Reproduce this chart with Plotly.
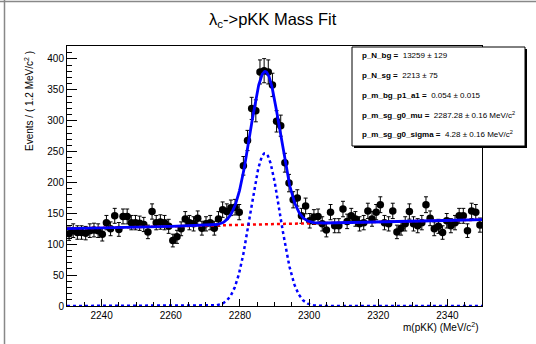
import numpy as np
import plotly.graph_objects as go

# ---- data ----
x_lo, x_hi, bin_w = 2230.0, 2350.0, 1.2
counts = [117, 122, 119, 119, 118, 122, 123, 122, 116, 135,
          125, 146, 124, 145, 145, 135, 135, 134, 132, 120,
          153, 135, 136, 135, 129, 106, 112, 125, 141, 135,
          133, 142, 126, 133, 135, 126, 141, 156, 153, 159,
          160, 152, 227, 268, 320, 316, 379, 381, 379, 358,
          299, 292, 232, 199, 172, 175, 146, 162, 138, 144,
          145, 133, 123, 152, 130, 130, 157, 137, 146, 141,
          133, 135, 154, 141, 152, 164, 135, 133, 154, 120,
          126, 133, 153, 133, 130, 135, 164, 142, 125, 129,
          119, 138, 130, 135, 146, 146, 122, 154, 152, 131]

# fit parameters (from the parameter box)
par_names = ["p_N_bg", "p_N_sg", "p_m_bg_p1_a1", "p_m_sg_g0_mu", "p_m_sg_g0_sigma"]
par_vals = ["13259", "2213", "0.054", "2287.28", "4.28"]
par_errs = ["129", "75", "0.015", "0.16", "0.16"]
par_units = ["", "", "", " MeV/c<sup>2</sup>", " MeV/c<sup>2</sup>"]
N_bg, N_sg, a1, mu, sigma = 13259.0, 2213.0, 0.054, 2287.28, 4.28

x_tick_vals = [2240, 2260, 2280, 2300, 2320, 2340]
y_tick_vals = [0, 50, 100, 150, 200, 250, 300, 350, 400]

centers = x_lo + bin_w * (np.arange(len(counts)) + 0.5)
errs = np.sqrt(np.array(counts, dtype=float))

xm = np.linspace(x_lo, x_hi, 1200)
xp = 2 * (xm - x_lo) / (x_hi - x_lo) - 1
bg = N_bg * bin_w / (x_hi - x_lo) * (1 + a1 * xp)
sg = N_sg * bin_w / (np.sqrt(2 * np.pi) * sigma) * np.exp(-0.5 * ((xm - mu) / sigma) ** 2)
tot = bg + sg

FONT = "Liberation Sans, Arial, Helvetica, sans-serif"
W, H = 536, 344
L, R, T, B = 67, 54, 46, 38
PW, PH = W - L - R, H - T - B
Y_MAX = 421


def px(xpix):
    return (xpix - L) / PW


def py(ypix):
    return (H - B - ypix) / PH


fig = go.Figure()
fig.add_trace(go.Scatter(
    x=centers, y=counts, mode="markers",
    marker=dict(color="black", size=7.5, symbol="circle"),
    error_y=dict(type="data", array=errs, visible=True, color="black", thickness=1, width=2),
    showlegend=False, cliponaxis=True))
fig.add_trace(go.Scatter(x=xm, y=bg, mode="lines",
                         line=dict(color="#ff0000", width=2.5, dash="dot"), showlegend=False))
fig.add_trace(go.Scatter(x=xm, y=sg, mode="lines",
                         line=dict(color="#0000ff", width=2.5, dash="dot"), showlegend=False))
fig.add_trace(go.Scatter(x=xm, y=tot, mode="lines",
                         line=dict(color="#0000ff", width=2.8), showlegend=False))

fig.update_layout(
    width=W, height=H,
    margin=dict(l=L, r=R, t=T, b=B, pad=0),
    paper_bgcolor="white", plot_bgcolor="white",
    font=dict(family=FONT, color="black", size=10),
    showlegend=False,
)
fig.update_xaxes(
    range=[x_lo, x_hi], showgrid=False, zeroline=False,
    showline=True, linecolor="black", linewidth=1, mirror=True,
    ticks="inside", ticklen=7, tickwidth=1, tickcolor="black",
    tickvals=x_tick_vals, ticktext=[str(v) for v in x_tick_vals],
    tickfont=dict(size=10, family=FONT),
    minor=dict(ticks="inside", ticklen=4, dtick=5, tick0=2230, tickcolor="black", showgrid=False),
)
fig.update_yaxes(
    range=[0, Y_MAX], showgrid=False, zeroline=False,
    showline=True, linecolor="black", linewidth=1, mirror=True,
    ticks="inside", ticklen=10, tickwidth=1, tickcolor="black",
    tickvals=y_tick_vals, ticktext=[str(v) for v in y_tick_vals],
    tickfont=dict(size=10, family=FONT),
    minor=dict(ticks="inside", ticklen=5, dtick=10, tick0=0, tickcolor="black", showgrid=False),
)

ann = []
# title
ann.append(dict(x=px(273), y=py(20), xref="paper", yref="paper",
                text="λ<sub>c</sub>->pKK Mass Fit", showarrow=False,
                font=dict(size=16.5, family=FONT), xanchor="center", yanchor="middle"))
# x axis title
ann.append(dict(x=px(481), y=py(327), xref="paper", yref="paper",
                text="m(pKK) (MeV/c<sup>2</sup>)", showarrow=False,
                font=dict(size=10, family=FONT), xanchor="right", yanchor="middle"))
# y axis title
ann.append(dict(x=px(29), y=py(49), xref="paper", yref="paper",
                text="Events / ( 1.2 MeV/c<sup>2</sup> )", showarrow=False, textangle=-90,
                font=dict(size=10, family=FONT), xanchor="center", yanchor="top"))

# parameter box
bx0, bx1, by0, by1 = 352, 525, 47, 146
shapes = [
    dict(type="rect", xref="paper", yref="paper",
         x0=px(bx0 + 2), x1=px(bx1 + 2), y0=py(by1 + 2), y1=py(by0 + 2),
         fillcolor="black", line=dict(width=0), layer="above"),
    dict(type="rect", xref="paper", yref="paper",
         x0=px(bx0), x1=px(bx1), y0=py(by1), y1=py(by0),
         fillcolor="white", line=dict(color="black", width=1), layer="above"),
    # canvas border (top and left)
    dict(type="line", xref="paper", yref="paper", x0=px(0), x1=px(W), y0=py(1.5), y1=py(1.5),
         line=dict(color="#888888", width=1.5)),
    dict(type="line", xref="paper", yref="paper", x0=px(4.5), x1=px(4.5), y0=py(0), y1=py(H),
         line=dict(color="#888888", width=1.5)),
]
row_y = [56, 75, 95, 115, 134]
for nm, v, e, u, yy in zip(par_names, par_vals, par_errs, par_units, row_y):
    ann.append(dict(x=px(360), y=py(yy), xref="paper", yref="paper",
                    text=f"<b>{nm} =</b>  {v} ± {e}{u}", showarrow=False,
                    font=dict(size=8, family=FONT), xanchor="left", yanchor="middle"))

fig.update_layout(annotations=ann, shapes=shapes)
fig.write_html("out.html",
               config={"displayModeBar": False, "staticPlot": True},
               post_script="document.body.style.margin='0px';document.body.style.overflow='hidden';")
